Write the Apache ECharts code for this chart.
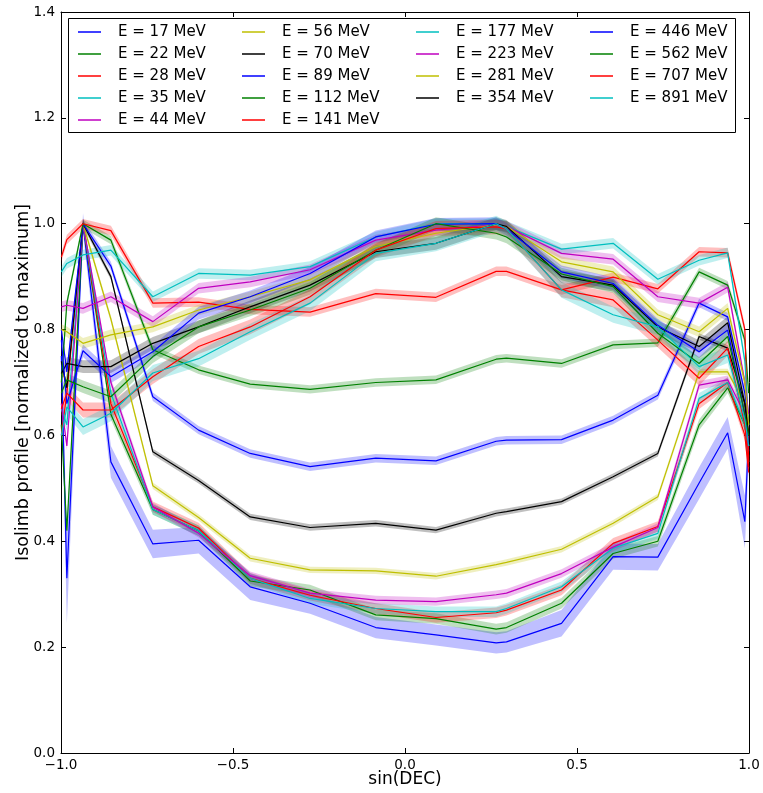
<!DOCTYPE html>
<html><head><meta charset="utf-8">
<script src="https://cdn.jsdelivr.net/npm/echarts@6/dist/echarts.min.js"></script>
<style>html,body{margin:0;padding:0;background:#fff}#c{width:763px;height:793px}</style>
</head><body><div id="c"></div>
<script>
// sin(DEC) sample positions
const SIN_DEC = [-0.999, -0.983, -0.936, -0.855, -0.733, -0.6, -0.45, -0.276, -0.085, 0.09, 0.265, 0.295, 0.455, 0.605, 0.735, 0.855, 0.938, 0.988, 0.999];

const ENERGIES_MEV = [17, 22, 28, 35, 44, 56, 70, 89, 112, 141, 177, 223, 281, 354, 446, 562, 707, 891];

// Isolimb profiles (normalized to maximum)
const P17  = [0.75, 0.33, 1.0, 0.55, 0.395, 0.402, 0.314, 0.283, 0.237, 0.223, 0.208, 0.210, 0.245, 0.371, 0.370, 0.51, 0.605, 0.437, 0.60];
const P22  = [0.62, 0.42, 1.0, 0.64, 0.46, 0.42, 0.325, 0.308, 0.261, 0.254, 0.234, 0.237, 0.283, 0.377, 0.400, 0.62, 0.69, 0.62, 0.56];
const P28  = [0.60, 0.68, 1.0, 0.66, 0.465, 0.425, 0.33, 0.298, 0.273, 0.256, 0.265, 0.270, 0.308, 0.396, 0.428, 0.66, 0.70, 0.60, 0.53];
const P35  = [0.65, 0.62, 1.0, 0.68, 0.46, 0.42, 0.33, 0.292, 0.273, 0.267, 0.267, 0.273, 0.314, 0.387, 0.415, 0.67, 0.70, 0.62, 0.55];
const P44  = [0.66, 0.58, 1.0, 0.70, 0.465, 0.415, 0.335, 0.302, 0.289, 0.286, 0.299, 0.302, 0.339, 0.389, 0.426, 0.695, 0.705, 0.64, 0.57];
const P56  = [0.72, 0.70, 1.0, 0.82, 0.505, 0.445, 0.368, 0.346, 0.344, 0.334, 0.356, 0.360, 0.385, 0.434, 0.484, 0.72, 0.72, 0.66, 0.58];
const P70  = [0.74, 0.69, 1.0, 0.90, 0.569, 0.515, 0.446, 0.426, 0.434, 0.421, 0.453, 0.456, 0.475, 0.522, 0.566, 0.787, 0.765, 0.66, 0.60];
const P89  = [0.80, 0.72, 1.0, 0.92, 0.673, 0.610, 0.566, 0.541, 0.557, 0.552, 0.589, 0.591, 0.592, 0.629, 0.676, 0.850, 0.824, 0.68, 0.62];
const P112 = [0.70, 0.85, 1.0, 0.969, 0.762, 0.724, 0.697, 0.687, 0.700, 0.705, 0.744, 0.746, 0.736, 0.771, 0.775, 0.909, 0.884, 0.78, 0.68];
const P141 = [0.937, 0.97, 1.0, 0.987, 0.850, 0.852, 0.838, 0.833, 0.868, 0.861, 0.910, 0.910, 0.875, 0.899, 0.877, 0.947, 0.945, 0.80, 0.55];
const P177 = [0.909, 0.925, 0.941, 0.950, 0.862, 0.906, 0.903, 0.919, 0.975, 1.0, 1.0, 0.995, 0.952, 0.963, 0.895, 0.931, 0.945, 0.74, 0.62];
const P223 = [0.843, 0.846, 0.840, 0.862, 0.815, 0.878, 0.890, 0.913, 0.969, 0.988, 0.998, 0.995, 0.944, 0.933, 0.862, 0.850, 0.880, 0.70, 0.64];
const P281 = [0.80, 0.796, 0.774, 0.790, 0.805, 0.837, 0.862, 0.894, 0.957, 0.982, 0.998, 0.995, 0.928, 0.909, 0.828, 0.796, 0.840, 0.70, 0.62];
const P354 = [0.717, 0.736, 0.730, 0.730, 0.774, 0.805, 0.843, 0.884, 0.947, 0.963, 1.0, 0.995, 0.900, 0.884, 0.805, 0.768, 0.813, 0.66, 0.60];
const P446 = [0.78, 0.66, 0.76, 0.711, 0.758, 0.831, 0.862, 0.906, 0.975, 0.999, 1.0, 0.99, 0.909, 0.887, 0.808, 0.758, 0.799, 0.64, 0.58];
const P562 = [0.68, 0.705, 0.692, 0.673, 0.749, 0.805, 0.837, 0.878, 0.950, 1.0, 0.982, 0.975, 0.905, 0.881, 0.793, 0.736, 0.787, 0.64, 0.60];
const P707 = [0.65, 0.680, 0.648, 0.648, 0.711, 0.768, 0.805, 0.862, 0.950, 0.991, 0.994, 0.990, 0.875, 0.856, 0.780, 0.708, 0.765, 0.62, 0.54];
const P891 = [0.60, 0.654, 0.616, 0.642, 0.718, 0.745, 0.796, 0.850, 0.944, 0.963, 1.0, 0.99, 0.875, 0.828, 0.805, 0.730, 0.752, 0.63, 0.58];

// uncertainty half-width of the 17 MeV band, per point
const ERR17 = [0.04, 0.085, 0.02, 0.03, 0.027, 0.025, 0.025, 0.02, 0.02, 0.02, 0.02, 0.02, 0.025, 0.025, 0.025, 0.03, 0.03, 0.05, 0.05];
// typical uncertainty half-width for the other energies
const BAND_HALF_WIDTH = [0, 0.01, 0.01, 0.01, 0.008, 0.006, 0.006, 0.008, 0.008, 0.009, 0.01, 0.01, 0.01, 0.012, 0.012, 0.012, 0.014, 0.015];

const PROFILES = [P17, P22, P28, P35, P44, P56, P70, P89, P112, P141, P177, P223, P281, P354, P446, P562, P707, P891];

const CYCLE = [[0,0,255],[0,128,0],[255,0,0],[0,191,191],[191,0,191],[191,191,0],[0,0,0]];
const FONT = 'DejaVu Sans';

const names = ENERGIES_MEV.map(e => 'E = ' + e + ' MeV');
const fmt = v => v.toFixed(1).replace('-', '\u2212');

const series = [];
PROFILES.forEach((p, idx) => {
  const c = CYCLE[idx % CYCLE.length];
  const err = idx === 0 ? ERR17 : SIN_DEC.map(() => BAND_HALF_WIDTH[idx]);
  series.push({
    type: 'custom', name: 'band' + idx, silent: true, z: 1,
    xAxisIndex: 0, yAxisIndex: 0, clip: true,
    data: [[0, 0.5]], encode: { x: 0, y: 1 },
    renderItem: (params, api) => {
      const pts = [];
      for (let i = 0; i < SIN_DEC.length; i++) pts.push(api.coord([SIN_DEC[i], p[i] + err[i]]));
      for (let i = SIN_DEC.length - 1; i >= 0; i--) pts.push(api.coord([SIN_DEC[i], p[i] - err[i]]));
      return { type: 'polygon', shape: { points: pts }, style: { fill: 'rgba(' + c.join(',') + ',0.25)' } };
    }
  });
});
PROFILES.forEach((p, idx) => {
  const c = CYCLE[idx % CYCLE.length];
  series.push({
    type: 'line', name: names[idx], z: 2, xAxisIndex: 0, yAxisIndex: 0,
    symbol: 'none', animation: false,
    data: SIN_DEC.map((x, i) => [x, p[i]]),
    lineStyle: { width: 1.2, color: 'rgb(' + c.join(',') + ')' },
    itemStyle: { color: 'rgb(' + c.join(',') + ')' }
  });
});

const COLS = [[0,5],[5,10],[10,14],[14,18]];
const COL_LEFT = [78, 242, 416, 590];
const legends = COLS.map((r, k) => ({
  orient: 'vertical', left: COL_LEFT[k], top: 24, padding: 0,
  itemWidth: 23, itemHeight: 1.5, itemGap: 6, icon: 'rect',
  selectedMode: false,
  data: names.slice(r[0], r[1]),
  textStyle: { fontFamily: FONT, fontSize: 15, color: '#000', lineHeight: 16, padding: [0, 0, 0, 12] }
}));

const axisCommonX = {
  type: 'value', min: -1, max: 1, interval: 0.5,
  axisLine: { onZero: false, lineStyle: { color: '#000', width: 1 } },
  axisTick: { inside: true, length: 5, lineStyle: { color: '#000' } },
  splitLine: { show: false }
};
const axisCommonY = {
  type: 'value', min: 0, max: 1.4, interval: 0.2,
  axisLine: { show: true, onZero: false, lineStyle: { color: '#000', width: 1 } },
  axisTick: { show: true, inside: true, length: 5, lineStyle: { color: '#000' } },
  splitLine: { show: false }
};

const chart = echarts.init(document.getElementById('c'), null, { renderer: 'canvas' });
chart.setOption({
  animation: false,
  backgroundColor: '#fff',
  grid: { left: 61, right: 14, top: 12, bottom: 40, containLabel: false, outerBoundsMode: 'none' },
  legend: legends,
  graphic: [{ type: 'rect', left: 68, top: 18, z: 0, silent: true,
    shape: { width: 667, height: 114 }, style: { fill: '#fff', stroke: '#000', lineWidth: 1 } }],
  xAxis: [
    Object.assign({}, axisCommonX, { position: 'bottom',
      axisLabel: { formatter: fmt, fontFamily: FONT, fontSize: 13.5, color: '#000', margin: 5 },
      name: 'sin(DEC)', nameLocation: 'middle', nameGap: 18, nameMoveOverlap: false,
      nameTextStyle: { fontFamily: FONT, fontSize: 17, color: '#000' } }),
    Object.assign({}, axisCommonX, { position: 'top', axisLabel: { show: false } })
  ],
  yAxis: [
    Object.assign({}, axisCommonY, { position: 'left',
      axisLabel: { formatter: fmt, fontFamily: FONT, fontSize: 13.5, color: '#000', margin: 6 },
      name: 'Isolimb profile [normalized to maximum]', nameLocation: 'middle', nameGap: 29, nameMoveOverlap: false,
      nameTextStyle: { fontFamily: FONT, fontSize: 17.5, color: '#000' } }),
    Object.assign({}, axisCommonY, { position: 'right', axisLabel: { show: false } })
  ],
  series: series
});
</script></body></html>
